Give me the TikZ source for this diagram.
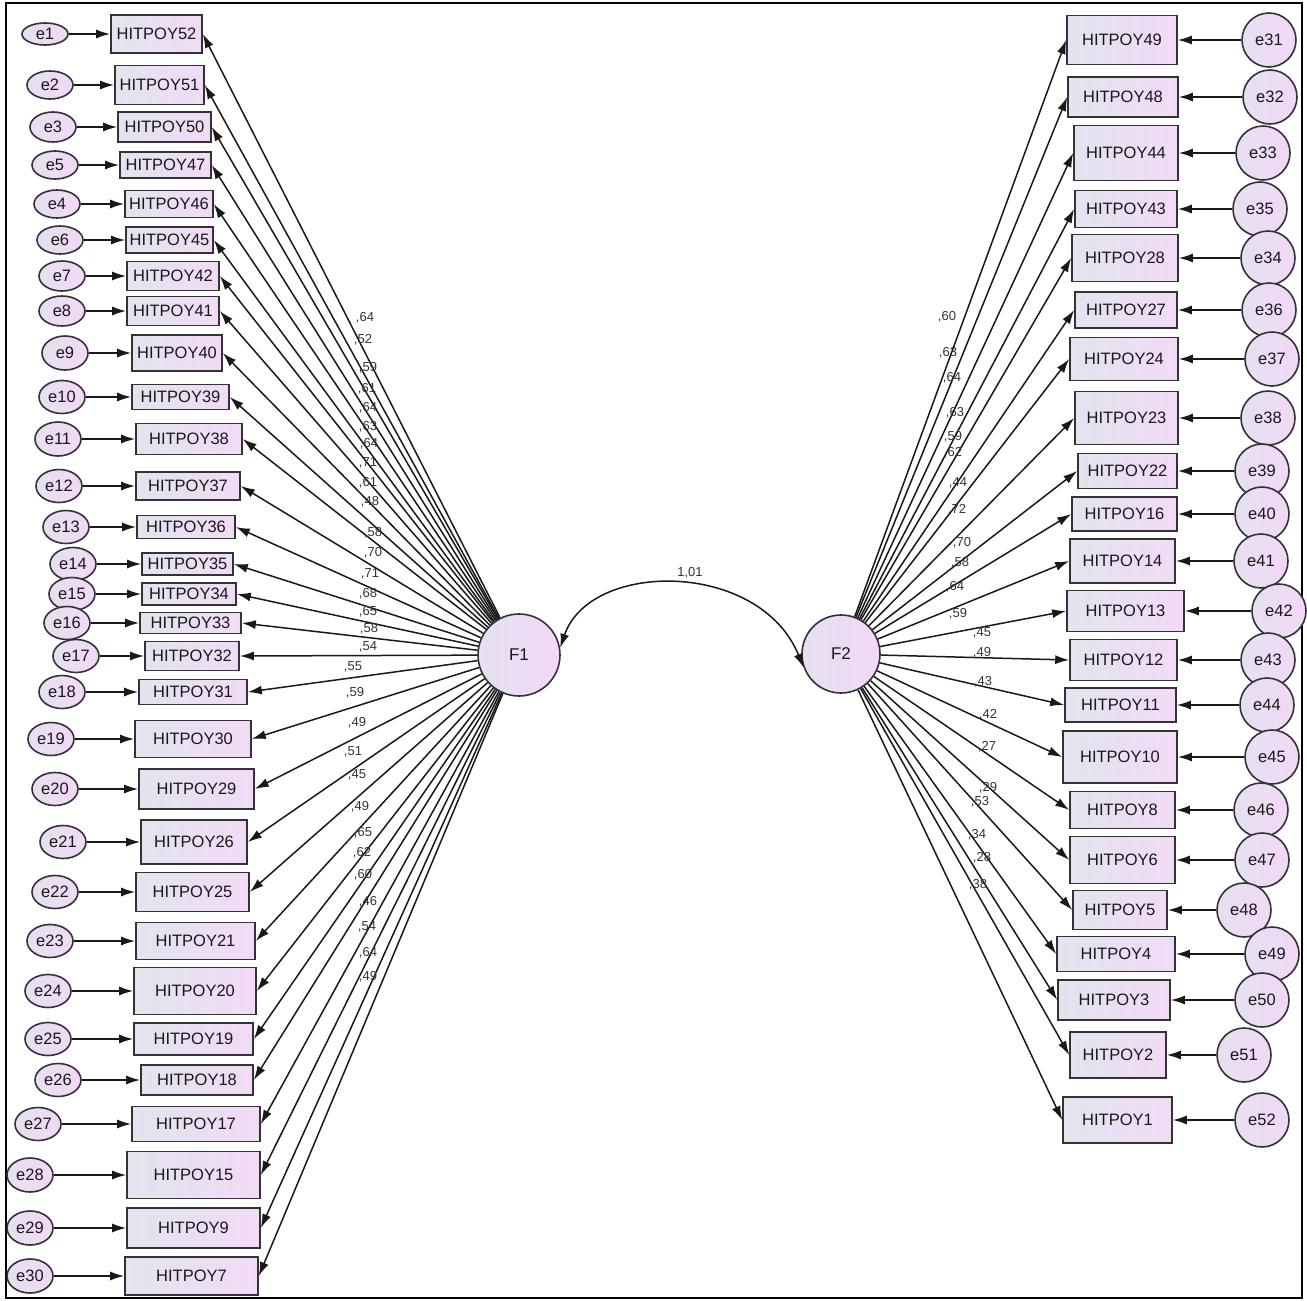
\documentclass[tikz,border=0pt]{standalone}
\usepackage{fontspec}
\setmainfont{Liberation Sans}
\usetikzlibrary{arrows.meta,shapes.geometric}
\definecolor{boxleft}{RGB}{226,228,238}
\definecolor{boxright}{RGB}{242,218,246}
\definecolor{errleft}{RGB}{230,224,240}
\definecolor{errright}{RGB}{242,216,246}
\definecolor{edge}{RGB}{50,50,55}
\tikzset{
	indbox/.style={
		draw=edge, line width=1.6pt, rectangle,
		left color=boxleft, right color=boxright,
		inner sep=0pt, text=black!90,
		font=\fontsize{16.5}{18}\selectfont
	},
	errell/.style={
		draw=edge, line width=1.6pt, ellipse, minimum width=46pt,
		left color=errleft, right color=errright,
		inner sep=0pt, text=black!90,
		font=\fontsize{16.5}{18}\selectfont
	},
	errcirc/.style={
		draw=edge, line width=1.6pt, circle, minimum size=54pt,
		left color=errleft, right color=errright,
		inner sep=0pt, text=black!90,
		font=\fontsize{16.5}{18}\selectfont
	},
	factor/.style={
		draw=edge, line width=1.6pt, circle, minimum size=82pt,
		left color=errleft, right color=errright,
		inner sep=0pt, text=black!90,
		font=\fontsize{17}{18}\selectfont
	},
	load/.style={-{Latex[length=14pt,width=9pt]}, line width=1.5pt, black!90},
	errarrow/.style={-{Latex[length=14pt,width=9pt]}, line width=1.5pt, black!90},
	cov/.style={{Latex[length=14pt,width=9pt]}-{Latex[length=14pt,width=9pt]}, line width=1.5pt, black!90},
	coef/.style={font=\fontsize{13}{13}\selectfont, text=black!80, inner sep=0pt}
}

\begin{document}
\begin{tikzpicture}[x=1pt,y=-1pt]
	\useasboundingbox (0,0) rectangle (1307,1301);
	\draw[line width=2.2pt] (6,3) rectangle (1302,1298);
	\node[factor] (F1) at (519,655) {F1};
	\node[factor, minimum size=78pt] (F2) at (841,654) {F2};
	% F1 indicators
	\foreach \lab/\err/\ex/\ry/\bx/\bw/\bh/\eh in {
		52/e1/45/34/156.5/91/38/22, 51/e2/50/85/159.5/89/39/28,
		50/e3/53/127/164.5/93/30/30, 47/e5/55/165/165.5/91/26/28,
		46/e4/57/204/169/88/27/28, 45/e6/60/240/169.5/87/26/28,
		42/e7/62/276/173/92/29/30, 41/e8/62/311/173/92/29/30,
		40/e9/65/353/177/90/36/34, 39/e10/62/397/180.5/97/25/33,
		38/e11/58/439/189/106/31/34, 37/e12/59/486/188/104/28/33,
		36/e13/66/527/186/98/23/33, 35/e14/73/564/187.5/91/22/33,
		34/e15/72/594/189/94/22/33, 33/e16/67/623/190.5/101/21/33,
		32/e17/76/656/192/94/29/33, 31/e18/62/692/193/108/25/33,
		30/e19/51/739/193/116/37/33, 29/e20/55/789/196.5/115/40/33,
		26/e21/63/842/194/106/44/33, 25/e22/55/892/192.5/113/39/33,
		21/e23/50/941/195.5/119/37/33, 20/e24/48/991/195/122/47/33,
		19/e25/48/1039/193.5/119/32/33, 18/e26/58/1080/197/112/30/33,
		17/e27/38/1124/196/128/35/33, 15/e28/30/1175/193.5/133/47/34,
		9/e29/30/1228/193.5/133/40/34, 7/e30/30/1276/191.5/133/38/34}{
		\node[indbox, minimum width=\bw, minimum height=\bh] (hit\lab) at (\bx,\ry) {HITPOY\lab};
		\node[errell, minimum height=\eh] (\err) at (\ex,\ry) {\err};
		\draw[errarrow] (\err) -- (hit\lab);
		\draw[load] (F1) -- (hit\lab.east);
	}
	% F2 indicators
	\foreach \lab/\err/\ex/\ry/\bx/\bw/\bh in {
		49/e31/1269/40/1122/110/49, 48/e32/1270/97/1123/110/40,
		44/e33/1263/153/1126/104/55, 43/e35/1260/209/1126/102/37,
		28/e34/1268/258/1125/106/47, 27/e36/1269/310/1126/102/36,
		24/e37/1272/359/1124/108/43, 23/e38/1268/418/1126.5/103/53,
		22/e39/1262/471/1127.5/99/35, 16/e40/1262/514/1124.5/105/34,
		14/e41/1261/561/1122.5/105/44, 13/e42/1279/611/1125.5/117/41,
		12/e43/1268/660/1123.5/107/41, 11/e44/1267/705/1120.5/111/34,
		10/e45/1272/757/1120/114/52, 8/e46/1261/810/1122.5/105/37,
		6/e47/1262/860/1122.5/105/47, 5/e48/1244/910/1120/94/39,
		4/e49/1272/954/1116/118/35, 3/e50/1262/1000/1114/112/40,
		2/e51/1244/1055/1118/96/46, 1/e52/1262/1120/1117.5/109/46}{
		\node[indbox, minimum width=\bw, minimum height=\bh] (hit\lab) at (\bx,\ry) {HITPOY\lab};
		\node[errcirc] (\err) at (\ex,\ry) {\err};
		\draw[errarrow] (\err) -- (hit\lab);
		\draw[load] (F2) -- (hit\lab.west);
	}
	% loadings
	\foreach \v/\x/\y [count=\i] in {
		64/365/318, 52/363/340, 59/368/368, 61/367/389, 64/368/408,
		63/368/427, 64/369/444, 71/368/463, 61/368/483, 48/370/502,
		58/373/533, 70/373/553, 71/370/574, 68/368/594, 65/368/612,
		58/369/629, 54/368/647, 55/353/667, 59/355/693, 49/357/723,
		51/353/752, 45/357/775, 49/360/807, 65/363/833, 62/362/853,
		60/363/875, 46/368/902, 54/367/927, 64/368/953, 49/368/977}
		\node[coef] (lc\i) at (\x,\y) {,\v};
	\foreach \v/\x/\y [count=\i] in {
		60/947/317, 63/948/353, 64/952/378, 63/955/413, 59/953/437,
		62/953/453, 44/958/483, 72/957/510, 70/962/543, 58/960/563,
		64/955/587, 59/958/614, 45/982/633, 49/982/653, 43/983/682,
		42/988/715, 27/987/747, 29/988/788, 53/980/802, 34/977/835,
		28/982/858, 38/978/885}
		\node[coef] (rc\i) at (\x,\y) {,\v};
	% covariance
	\draw[cov] (F1.10) .. controls (590,560) and (760,560) .. (F2.200);
	\node[coef] (corr) at (690,573) {1,01};
\end{tikzpicture}
\end{document}
